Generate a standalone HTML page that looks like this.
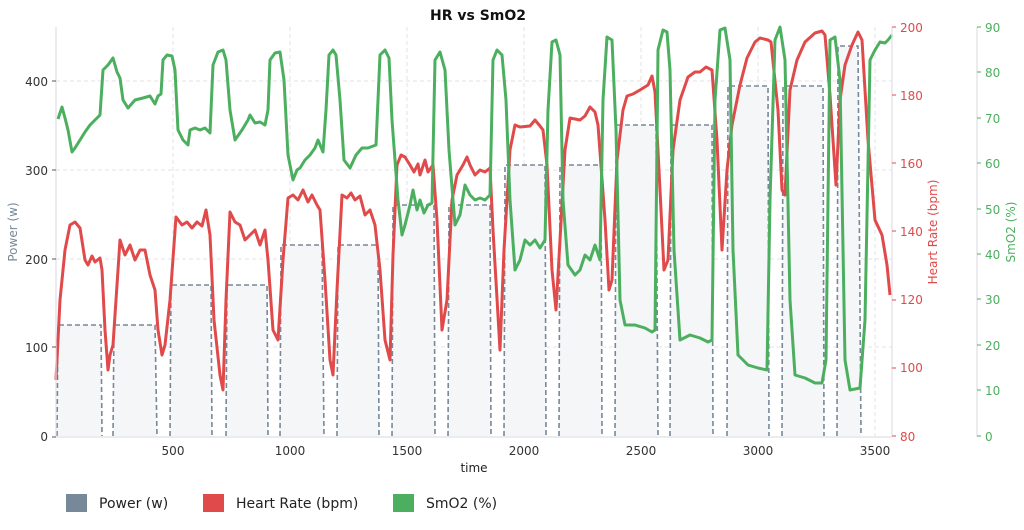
<!DOCTYPE html>
<html><head><meta charset="utf-8"><style>
body{margin:0;background:#fff;font-family:"DejaVu Sans","Liberation Sans",sans-serif}
</style></head><body>
<svg width="1024" height="526" xmlns="http://www.w3.org/2000/svg" font-family="DejaVu Sans, Liberation Sans, sans-serif">
<rect width="1024" height="526" fill="#fff"/>
<text x="478" y="20" text-anchor="middle" font-size="14" font-weight="bold" fill="#111">HR vs SmO2</text>
<g stroke="#e3e3e8" stroke-dasharray="4,3" stroke-width="1">
<line x1="56" y1="347" x2="892" y2="347"/><line x1="56" y1="259" x2="892" y2="259"/><line x1="56" y1="170" x2="892" y2="170"/><line x1="56" y1="81" x2="892" y2="81"/>
<line x1="173" y1="27" x2="173" y2="436"/><line x1="290" y1="27" x2="290" y2="436"/><line x1="407" y1="27" x2="407" y2="436"/><line x1="524" y1="27" x2="524" y2="436"/><line x1="641" y1="27" x2="641" y2="436"/><line x1="758" y1="27" x2="758" y2="436"/><line x1="875" y1="27" x2="875" y2="436"/>
</g>
<g fill="#f4f6f8" stroke="#778899" stroke-width="1.6" stroke-dasharray="5,3">
<path d="M57,436 L58,325 L101,325 L102,436"/>
<path d="M113,436 L114,325 L155,325 L157,436"/>
<path d="M170,436 L171,285 L211,285 L212,436"/>
<path d="M226,436 L227,285 L267,285 L268,436"/>
<path d="M280,436 L281,245 L322,245 L324,436"/>
<path d="M337,436 L338,245 L378,245 L379,436"/>
<path d="M392,436 L393,205 L434,205 L435,436"/>
<path d="M448,436 L449,205 L490,205 L491,436"/>
<path d="M504,436 L505,165 L545,165 L546,436"/>
<path d="M559,436 L560,165 L601,165 L602,436"/>
<path d="M615,436 L616,125 L656,125 L658,436"/>
<path d="M670,436 L671,125 L712,125 L713,436"/>
<path d="M727,436 L728,86 L768,86 L769,436"/>
<path d="M782,436 L783,86 L823,86 L824,436"/>
<path d="M837,436 L838,46 L858,46 L861,436"/>
</g>
<polyline fill="none" stroke="#e04a4a" stroke-width="3" stroke-linejoin="round" points="56,380 60,300 65,250 70,225 75,222 80,228 85,260 88,265 92,256 95,262 100,258 102,270 105,330 108,370 110,355 113,345 116,300 120,240 125,255 130,245 135,260 140,250 145,250 150,275 155,290 158,330 162,355 165,345 170,300 176,217 182,225 187,222 192,228 197,222 202,226 206,210 210,235 214,320 220,375 223,390 226,300 230,212 235,222 240,225 245,240 250,235 255,230 260,245 265,230 268,260 273,330 278,340 283,260 288,198 293,195 298,200 303,190 308,202 312,195 317,205 320,210 325,280 330,360 333,375 337,290 342,195 347,198 351,193 355,200 360,196 365,215 370,210 375,225 380,270 385,340 390,360 393,255 397,165 401,155 405,157 410,165 414,172 418,164 420,175 425,160 428,172 433,165 437,220 442,330 447,300 452,200 457,175 463,165 467,157 470,165 475,175 480,170 485,172 490,168 493,230 500,350 504,250 510,150 515,125 520,127 530,126 535,120 540,126 543,130 547,165 552,270 556,310 560,240 565,150 570,118 580,120 585,116 590,107 595,112 598,125 605,220 609,290 612,280 617,160 623,110 627,96 633,94 640,90 648,85 652,76 655,92 660,190 664,270 668,260 673,150 680,100 688,77 695,72 700,72 706,67 712,70 717,140 722,250 727,170 732,125 740,85 747,58 755,42 760,38 768,40 771,42 778,110 782,190 785,195 790,90 797,60 805,42 815,33 822,31 825,35 830,95 836,185 840,100 845,65 852,45 858,32 862,40 868,140 875,220 882,235 887,265 890,295"/>
<polyline fill="none" stroke="#4caf5f" stroke-width="3" stroke-linejoin="round" points="58,119 62,107 65,118 68,130 72,152 75,148 80,140 85,132 90,125 97,118 100,115 103,70 108,65 113,58 117,72 120,78 123,100 128,108 135,100 143,98 150,96 155,104 158,96 161,94 163,60 167,55 172,56 175,70 178,130 183,140 188,145 190,130 195,128 200,130 205,128 210,133 213,65 218,52 223,50 226,60 230,110 235,140 242,130 248,120 250,115 255,123 260,122 265,125 268,110 270,60 275,53 280,52 284,80 288,155 293,180 297,170 300,168 305,160 310,155 315,148 318,140 323,152 326,110 329,55 333,50 336,55 340,100 344,160 350,168 356,155 362,148 368,148 376,145 380,55 385,50 389,58 392,120 398,200 402,235 405,225 410,205 413,190 417,210 420,200 424,213 428,205 432,203 435,60 440,52 445,70 449,150 455,225 460,215 465,185 470,195 475,200 480,198 485,200 490,195 493,60 497,50 502,55 506,100 510,200 515,270 520,260 525,240 530,245 535,240 540,248 545,240 548,110 552,42 556,40 560,55 563,200 568,265 575,275 580,270 585,255 590,260 595,245 600,260 603,100 607,37 612,40 616,130 620,300 625,325 635,325 645,328 652,332 655,330 658,50 663,30 667,32 670,70 674,250 680,340 690,335 700,338 708,342 712,340 715,100 720,30 725,28 730,60 733,250 738,355 748,365 758,368 767,370 770,200 775,40 780,27 785,60 790,300 795,375 805,378 815,383 822,383 826,360 830,40 835,37 840,80 845,360 850,390 860,388 865,320 870,60 875,50 880,42 885,43 888,40 892,35"/>
<g stroke="#e0e0e6" stroke-width="1.2" fill="none">
<line x1="56" y1="27" x2="56" y2="437"/><line x1="56" y1="437" x2="892" y2="437"/>
<line x1="892" y1="27" x2="892" y2="437"/><line x1="977" y1="27" x2="977" y2="437"/>
</g>
<g font-size="12" fill="#333" text-anchor="end">
<text x="48" y="441">0</text><text x="48" y="352">100</text><text x="48" y="264">200</text><text x="48" y="175">300</text><text x="48" y="86">400</text>
</g>
<g stroke="#555" stroke-width="1"><line x1="52" y1="437" x2="56" y2="437"/><line x1="52" y1="347" x2="56" y2="347"/><line x1="52" y1="259" x2="56" y2="259"/><line x1="52" y1="170" x2="56" y2="170"/><line x1="52" y1="81" x2="56" y2="81"/></g>
<g font-size="12" fill="#333" text-anchor="middle">
<text x="173" y="455">500</text><text x="290" y="455">1000</text><text x="407" y="455">1500</text><text x="524" y="455">2000</text><text x="641" y="455">2500</text><text x="758" y="455">3000</text><text x="875" y="455">3500</text>
</g>
<text x="474" y="472" font-size="12" fill="#222" text-anchor="middle">time</text>
<text transform="translate(17,232) rotate(-90)" font-size="12" fill="#778899" text-anchor="middle">Power (w)</text>
<g font-size="12" fill="#e04a4a">
<text x="900" y="32">200</text><text x="900" y="100">180</text><text x="900" y="168">160</text><text x="900" y="236">140</text><text x="900" y="304">120</text><text x="900" y="372">100</text><text x="900" y="441">80</text>
</g>
<g stroke="#e04a4a"><line x1="892" y1="27" x2="896" y2="27"/><line x1="892" y1="95" x2="896" y2="95"/><line x1="892" y1="163" x2="896" y2="163"/><line x1="892" y1="231" x2="896" y2="231"/><line x1="892" y1="300" x2="896" y2="300"/><line x1="892" y1="368" x2="896" y2="368"/><line x1="892" y1="436" x2="896" y2="436"/></g>
<text transform="translate(937,232) rotate(-90)" font-size="12" fill="#e04a4a" text-anchor="middle">Heart Rate (bpm)</text>
<g font-size="12" fill="#4caf5f">
<text x="985" y="32">90</text><text x="985" y="77">80</text><text x="985" y="123">70</text><text x="985" y="168">60</text><text x="985" y="214">50</text><text x="985" y="259">40</text><text x="985" y="304">30</text><text x="985" y="350">20</text><text x="985" y="395">10</text><text x="985" y="441">0</text>
</g>
<g stroke="#4caf5f"><line x1="977" y1="27" x2="981" y2="27"/><line x1="977" y1="72" x2="981" y2="72"/><line x1="977" y1="118" x2="981" y2="118"/><line x1="977" y1="163" x2="981" y2="163"/><line x1="977" y1="209" x2="981" y2="209"/><line x1="977" y1="254" x2="981" y2="254"/><line x1="977" y1="299" x2="981" y2="299"/><line x1="977" y1="345" x2="981" y2="345"/><line x1="977" y1="390" x2="981" y2="390"/><line x1="977" y1="436" x2="981" y2="436"/></g>
<text transform="translate(1015,232) rotate(-90)" font-size="12" fill="#4caf5f" text-anchor="middle">SmO2 (%)</text>
<rect x="66" y="494" width="21" height="18" fill="#778899"/>
<text x="99" y="508" font-size="14" fill="#222">Power (w)</text>
<rect x="203" y="494" width="21" height="18" fill="#e04a4a"/>
<text x="236" y="508" font-size="14" fill="#222">Heart Rate (bpm)</text>
<rect x="393" y="494" width="21" height="18" fill="#4caf5f"/>
<text x="426" y="508" font-size="14" fill="#222">SmO2 (%)</text>
</svg>
</body></html>
